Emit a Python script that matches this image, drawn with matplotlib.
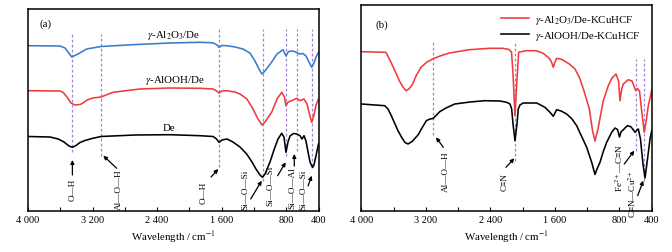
import matplotlib
matplotlib.use("Agg")
import matplotlib.pyplot as plt

plt.rcParams['font.family'] = ['Liberation Serif', 'DejaVu Serif']
plt.rcParams['mathtext.fontset'] = 'stix'

# ---------------- data (a) ----------------
a_blue_wn = [4000, 3603, 3541, 3458, 3380, 3273, 3095, 2699, 2240, 1869, 1707, 1657, 1632, 1596, 1534,
             1435, 1336, 1250, 1187, 1138, 1101, 1063, 980, 914, 840, 803, 772, 716, 658, 629, 592, 555,
             518, 484, 456, 431, 400]
a_blue_t = [165.3, 165, 163, 154, 157, 162, 164.5, 166.3, 168, 168.7, 168.2, 166, 163.7, 165.5, 165.3,
            164, 162, 158, 150, 142, 137, 140, 149, 157, 161.3, 155, 159.5, 160, 158, 157, 157.5, 155,
            149, 143.7, 148, 154, 158.7]

a_red_wn = [4000, 3603, 3566, 3517, 3467, 3418, 3356, 3318, 3269, 3195, 3095, 2947, 2612, 2240, 1869,
            1707, 1664, 1633, 1596, 1534, 1435, 1373, 1287, 1212, 1150, 1101, 1063, 979, 914, 856, 822,
            803, 778, 732, 670, 629, 580, 543, 512, 484, 456, 431, 400]
a_red_t = [120.3, 120, 118.7, 114, 108, 106, 106.5, 108, 111, 113, 114, 118.7, 122, 123, 122.7,
           122, 120, 118, 120, 120.3, 119, 117, 112, 102, 92, 86, 89, 99, 112, 118.7, 114,
           105.3, 109, 110.3, 112.7, 110.3, 112, 107, 97, 88.7, 96, 106, 112]

a_black_wn = [4000, 3727, 3625, 3554, 3492, 3449, 3405, 3356, 3294, 3207, 3095, 2674, 2240, 1869, 1707,
              1664, 1633, 1596, 1534, 1460, 1373, 1290, 1224, 1175, 1125, 1094, 1063, 1001, 952, 902,
              856, 828, 803, 778, 753, 710, 667, 629, 605, 580, 555, 530, 505, 474, 456, 431, 400]
a_black_t = [74.5, 74, 72, 69, 65, 63.7, 65.5, 68.5, 70.5, 72.5, 74.5, 76, 76.3, 75.3, 74.5,
             72, 68.7, 71, 72, 69, 64, 57, 49, 42, 36, 33.7, 37, 49, 61, 72,
             77.7, 74, 58.7, 69, 75, 77.5, 77, 75.3, 72, 75.3, 70, 59, 49, 43.5, 46, 55.3, 67]

a_peaks = [3450, 3100, 1630, 1090, 800, 670, 475]
a_series_names = ["$\\gamma$-Al$_2$O$_3$/De", "$\\gamma$-AlOOH/De", "De"]
a_bands = ["O—H", "Al—O—H", "O—H", "Si—O—Si", "Si—O—Si", "Si—O—Al", "Si—O—Si"]

# ---------------- data (b) ----------------
b_red_wn = [4000, 3694, 3632, 3582, 3529, 3483, 3446, 3409, 3363, 3322, 3260, 3186, 3115, 3024, 2909,
            2661, 2405, 2247, 2169, 2138, 2119, 2095, 2070, 2049, 1958, 1834, 1751, 1669, 1642, 1620,
            1599, 1578, 1512, 1421, 1351, 1297, 1239, 1173, 1133, 1103, 1066, 1000, 938, 892, 842,
            811, 793, 772, 752, 690, 644, 619, 598, 576, 551, 520, 492, 465, 442, 409, 400]
b_red_t = [159.3, 158.7, 148.7, 140, 130.3, 124, 120.3, 122, 127, 135, 143.7, 149, 152, 155, 158,
           161.3, 162.7, 162.7, 161.5, 159, 137, 95.3, 132, 158.7, 160.3, 160.3, 158, 152.7, 149, 143.7,
           149, 152.7, 151.5, 147, 142, 133.7, 120, 102, 80, 70, 82, 110.3, 125.3, 133, 137,
           130, 110.3, 122, 127, 131.3, 130, 124.7, 120.3, 122.5, 120, 97, 78.7, 92, 105.3, 117, 121]

b_black_wn = [4000, 3710, 3669, 3628, 3582, 3545, 3495, 3458, 3421, 3371, 3297, 3248, 3194, 3148, 3111,
              3074, 3028, 2950, 2842, 2652, 2470, 2281, 2198, 2157, 2136, 2119, 2095, 2070, 2054, 2033,
              1992, 1826, 1723, 1661, 1620, 1578, 1524, 1454, 1388, 1330, 1277, 1206, 1144, 1103, 1078,
              1041, 998, 958, 896, 855, 824, 799, 781, 743, 702, 663, 635, 607, 582, 566, 539, 508,
              483, 452, 421, 400]
b_black_t = [107, 105.3, 102, 95.3, 87, 80.3, 73, 68.5, 67, 69.5, 76, 83, 90.3, 92, 92.5,
             95.5, 99.3, 103, 107, 109, 110.3, 110, 108.7, 107, 102, 87, 70.3, 87, 102, 106,
             108, 108, 103.7, 98.7, 94.7, 101.3, 100, 97, 92, 85.3, 76, 63.7, 48.7, 36.5, 42,
             48.7, 60, 68.7, 78.7, 83, 81.5, 74, 79, 82, 85.3, 84.5, 82, 78.7, 81, 82, 72, 47,
             33, 52, 72, 80.3]

b_peaks = [3110, 2095, 600, 500]
b_series_names = ["$\\gamma$-Al$_2$O$_3$/De-KCuHCF", "$\\gamma$-AlOOH/De-KCuHCF"]
b_bands = ["Al—O—H", "C≡N", "Fe$^{2+}$—C≡N", "C≡N—Cu$^{2+}$"]

tick_vals = [4000, 3200, 2400, 1600, 800, 400]
tick_labels = ["4 000", "3 200", "2 400", "1 600", "800", "400"]
minor_vals = [3600, 2800, 2000, 1200]

# ---------------- styling ----------------
BLUE = "#3b7bcc"
RED = "#ee3b3b"
PURPLE = "#a67fd6"
W, H = 672, 253

fig = plt.figure(figsize=(W / 100, H / 100), dpi=100)
axa = fig.add_axes([28 / W, 41 / H, 290.5 / W, 202 / H])
axb = fig.add_axes([361.3 / W, 41 / H, 290.4 / W, 206 / H])


def style_axes(ax, ytop):
    ax.set_xlim(4000, 400)
    ax.set_ylim(0, ytop)
    ax.set_yticks([])
    ax.set_xticks(tick_vals)
    ax.set_xticklabels(tick_labels, fontsize=7.5)
    ax.set_xticks(minor_vals, minor=True)
    ax.tick_params(axis='x', which='both', direction='in', length=3, width=0.8, pad=3)
    for s in ax.spines.values():
        s.set_linewidth(1.1)
    ax.set_xlabel("Wavelength / cm$^{-1}$", fontsize=7.8, labelpad=3)


style_axes(axa, 202)
style_axes(axb, 206)

arrow_kw = dict(arrowstyle='-|>', color='k', lw=0.9, mutation_scale=5.5,
                shrinkA=0, shrinkB=0)
dash_kw = dict(color=PURPLE, lw=0.9, linestyle=(0, (2.2, 1.8)))

# ---- panel (a) ----
a_dash_ext = [(177, 59), (177, 55), (182, 44), (182, 30), (182, 55), (182, 60), (182, 45)]
for wn, (t0, t1) in zip(a_peaks, a_dash_ext):
    axa.plot([wn, wn], [t1, t0], **dash_kw, zorder=1)

axa.plot(a_blue_wn, a_blue_t, color=BLUE, lw=1.15, zorder=2)
axa.plot(a_red_wn, a_red_t, color=RED, lw=1.15, zorder=2)
axa.plot(a_black_wn, a_black_t, color='k', lw=1.15, zorder=2)

axa.text(2200, 177, a_series_names[0], fontsize=7.8, ha='center', va='center')
axa.text(2180, 131.3, a_series_names[1], fontsize=7.8, ha='center', va='center')
axa.text(2250, 83.7, a_series_names[2], fontsize=7.8, ha='center', va='center')
axa.text(3780, 188, "(a)", fontsize=7.8, ha='center', va='center')

a_txt_pos = [(3450, 22), (2869, 22), (1819, 19), (1311, 22), (992, 26), (725, 24), (588, 22)]
a_arr_tail = [(3450, 36), (2901, 42.7), (1732, 34), (1240, 12), (906, 35.3), (700, 45), (530, 25)]
a_arr_head = [(3450, 51), (3067, 55.3), (1642, 42), (1104, 30.3), (807, 48.7), (700, 57), (484, 35.3)]
for lab, p, t, h in zip(a_bands, a_txt_pos, a_arr_tail, a_arr_head):
    axa.text(p[0], p[1], lab, rotation=90, fontsize=6.6, ha='center', va='center')
    axa.annotate('', xy=h, xytext=t, arrowprops=arrow_kw)

# ---- panel (b) ----
b_dash_ext = [(170.3, 76.3), (170.3, 50.3), (152, 60.3), (152, 30.3)]
for wn, (t0, t1) in zip(b_peaks, b_dash_ext):
    axb.plot([wn, wn], [t1, t0], **dash_kw, zorder=1)

axb.plot(b_red_wn, b_red_t, color=RED, lw=1.15, zorder=2, label=b_series_names[0])
axb.plot(b_black_wn, b_black_t, color='k', lw=1.15, zorder=2, label=b_series_names[1])
axb.legend(loc='upper right', bbox_to_anchor=(0.985, 1.0), frameon=False, fontsize=7.8,
           handlelength=2.6, handletextpad=0.5, labelspacing=0.3, borderaxespad=0.3)
axb.text(3740, 187, "(b)", fontsize=7.8, ha='center', va='center')

b_txt_pos = [(2950, 40), (2227, 30), (802, 44), (636, 18)]
b_arr_tail = [(2983, 63.7), (2206, 43.7), (740, 47), (574, 15.3)]
b_arr_head = [(3074, 73.7), (2103, 52.7), (616, 60.3), (504, 30.3)]
for lab, p, t, h in zip(b_bands, b_txt_pos, b_arr_tail, b_arr_head):
    axb.text(p[0], p[1], lab, rotation=90, fontsize=6.6, ha='center', va='center')
    axb.annotate('', xy=h, xytext=t, arrowprops=arrow_kw)

fig.savefig("out.png", dpi=100)
